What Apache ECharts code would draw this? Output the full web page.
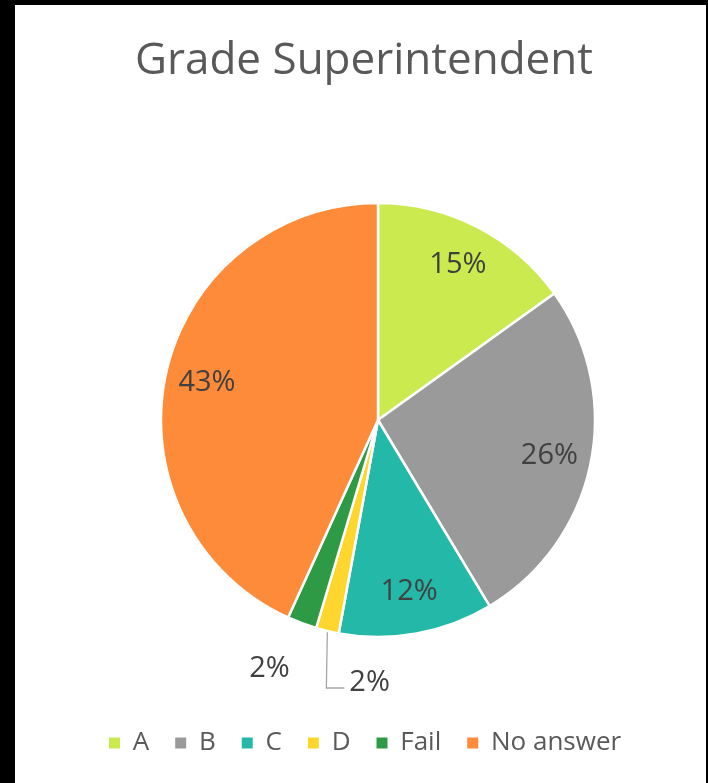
<!DOCTYPE html>
<html>
<head>
<meta charset="utf-8">
<script src="https://cdn.jsdelivr.net/npm/echarts@6/dist/echarts.min.js"></script>
<style>
html,body{margin:0;padding:0;background:#000;width:708px;height:783px;overflow:hidden;}
#panel{position:absolute;left:15px;top:5px;width:691px;height:778px;background:#fff;}
#chart{position:absolute;left:0;top:0;width:708px;height:783px;}
</style>
</head>
<body>
<div id="panel"></div>
<div id="chart"></div>
<script>
const titleText = 'Grade Superintendent';
const categories = ['A', 'B', 'C', 'D', 'Fail', 'No answer'];
const values = [15.1, 26.3, 11.5, 1.7, 2.2, 43.2];
const colors = ['#CBEA4F', '#9A9A9A', '#24B8A8', '#FED62D', '#2F9A45', '#FE8B3A'];
const insideLabelCats = ['A', 'B', 'C', 'No answer'];

const fontFam = '"Open Sans", "Noto Sans", sans-serif';
const pct = p => Math.round(p.percent) + '%';

const mainData = categories.map((c, i) => {
  const item = { name: c, value: values[i], itemStyle: { color: colors[i] } };
  if (c === 'D') {
    item.label = { show: true, position: 'outside' };
    item.labelLine = { show: true, length: 20, length2: 10, lineStyle: { color: '#A6A6A6', width: 1.3 } };
  } else if (c === 'Fail') {
    item.label = { show: true, position: 'outside' };
    item.labelLine = { show: false, length: 46, length2: 0 };
  } else {
    item.label = { show: false };
    item.labelLine = { show: false };
  }
  return item;
});

const labelData = categories.map((c, i) => ({
  name: c, value: values[i],
  label: { show: insideLabelCats.indexOf(c) >= 0 }
}));

const chart = echarts.init(document.getElementById('chart'), null, { renderer: 'canvas' });
chart.setOption({
  backgroundColor: 'transparent',
  animation: false,
  title: {
    text: titleText,
    left: 359,
    textAlign: 'center',
    top: 34,
    textStyle: { fontFamily: fontFam, fontSize: 44, fontWeight: 'normal', color: '#595959' }
  },
  legend: {
    data: categories,
    left: 102,
    top: 725,
    itemWidth: 13,
    itemHeight: 13,
    itemGap: 24,
    icon: 'rect',
    formatter: n => ' ' + n,
    textStyle: { fontFamily: fontFam, fontSize: 26, color: '#595959' }
  },
  series: [
    {
      type: 'pie',
      center: [378, 420],
      radius: [0, 217],
      startAngle: 90,
      clockwise: true,
      avoidLabelOverlap: false,
      silent: true,
      itemStyle: { borderColor: '#fff', borderWidth: 2.5 },
      label: { formatter: pct, fontFamily: fontFam, fontSize: 29, color: '#404040' },
      labelLayout: function (params) {
        if (params.dataIndex === 3 && params.labelLinePoints) {
          const p0 = params.labelLinePoints[0];
          return {
            x: p0[0] + 22, y: p0[1] + 52, align: 'left', verticalAlign: 'middle',
            labelLinePoints: [p0, [p0[0] - 1, p0[1] + 57], [p0[0] + 17, p0[1] + 57]]
          };
        }
        if (params.dataIndex === 4) {
          return { dx: 9, dy: 2 };
        }
        return {};
      },
      data: mainData
    },
    {
      type: 'pie',
      center: [378, 420],
      radius: [127, 217],
      startAngle: 90,
      clockwise: true,
      silent: true,
      itemStyle: { color: 'rgba(0,0,0,0)', borderWidth: 0 },
      label: { show: true, position: 'inside', formatter: pct, fontFamily: fontFam, fontSize: 29, color: '#404040' },
      labelLine: { show: false },
      data: labelData
    }
  ]
});
</script>
</body>
</html>
